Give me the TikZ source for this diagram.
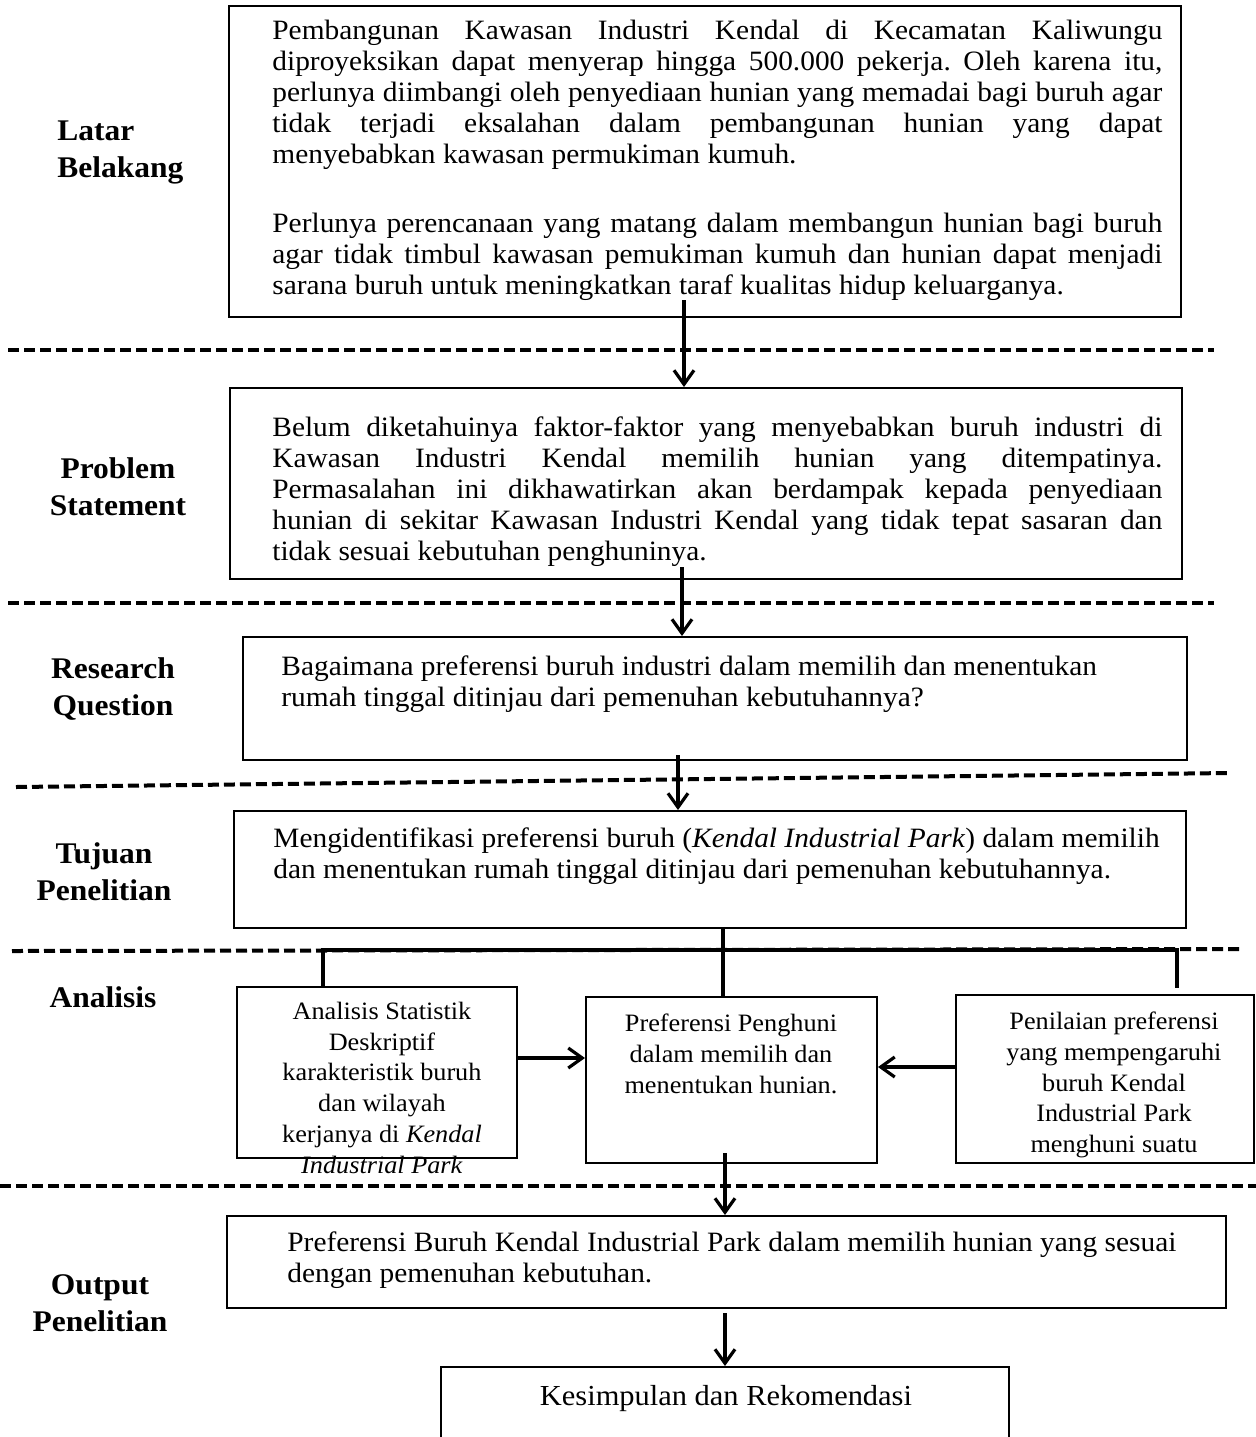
\documentclass[tikz,border=0pt]{standalone}
\usepackage{fontspec}
\setmainfont{Liberation Serif}[FakeStretch=1.05]
\usetikzlibrary{arrows.meta, fit, positioning}
\setlength{\parindent}{0pt}
\frenchspacing

\tikzset{
	box/.style = {draw, line width=1pt, inner sep=0pt},
	rowname/.style = {font=\fontsize{15}{18.5}\selectfont\bfseries, inner sep=0pt, align=center, anchor=north},
	body/.style = {font=\fontsize{14}{15.5}\selectfont, inner sep=0pt, anchor=north west},
	smallbody/.style = {font=\fontsize{12.5}{15.4}\selectfont, inner sep=0pt, align=center, anchor=north},
	arr/.style = {line width=1.6pt, -{Straight Barb[length=7pt, width=10pt, line width=1.6pt]}},
	link/.style = {line width=1.8pt},
	divider/.style = {line width=2pt, dash pattern=on 5.5pt off 2.5pt},
}

\begin{document}
\begin{tikzpicture}[x=0.5pt, y=-0.5pt]
		\useasboundingbox (0,0) rectangle (1256,1437);
		
		%section dividers
		\draw [divider] (8,350) -- (1214,350);
		\draw [divider] (8,603) -- (1214,603);
		\draw [divider] (16,787) -- (1230,773);
		\draw [divider] (12,951) -- (1242,949);
		\draw [divider] (0,1186) -- (1256,1186);
		
		%row names
		\node [rowname, align=left, anchor=north west] (nLatar) at (57,120) {Latar\\Belakang};
		\node [rowname] (nMasalah) at (118,457) {Problem\\Statement};
		\node [rowname] (nTanya) at (113,657) {Research\\Question};
		\node [rowname] (nTujuan) at (104,842) {Tujuan\\Penelitian};
		\node [rowname, anchor=base] (nAnalisis) at (103,1007) {Analisis};
		\node [rowname] (nOutput) at (100,1274) {Output\\Penelitian};
		
		%boxes
		\node [box, fit={(229,6) (1181,317)}] (latar) {};
		\node [box, fit={(230,388) (1182,579)}] (masalah) {};
		\node [box, fit={(243,637) (1187,760)}] (tanya) {};
		\node [box, fit={(234,811) (1186,928)}] (tujuan) {};
		\node [box, fit={(237,987) (517,1158)}] (anal) {};
		\node [box, fit={(586,997) (877,1163)}] (pref) {};
		\node [box, fit={(956,995) (1254,1163)}] (nilai) {};
		\node [box, fit={(227,1216) (1226,1308)}] (hasil) {};
		\node [box, fit={(441,1367) (1009,1450)}] (simpul) {};
		
		%box texts
		\node [body, text width=445pt, align=justify] (latarText) at (272,19.5) {Pembangunan Kawasan Industri Kendal di Kecamatan Kaliwungu\linebreak diproyeksikan dapat menyerap hingga 500.000 pekerja. Oleh karena itu,\linebreak perlunya diimbangi oleh penyediaan hunian yang memadai bagi buruh agar\linebreak tidak terjadi eksalahan dalam pembangunan hunian yang dapat\linebreak menyebabkan kawasan permukiman kumuh.\par\vspace{19pt}Perlunya perencanaan yang matang dalam membangun hunian bagi buruh\linebreak agar tidak timbul kawasan pemukiman kumuh dan hunian dapat menjadi\linebreak sarana buruh untuk meningkatkan taraf kualitas hidup keluarganya.};
		\node [body, text width=445pt, align=justify] (masalahText) at (272,416.6) {Belum diketahuinya faktor-faktor yang menyebabkan buruh industri di\linebreak Kawasan Industri Kendal memilih hunian yang ditempatinya.\linebreak Permasalahan ini dikhawatirkan akan berdampak kepada penyediaan\linebreak hunian di sekitar Kawasan Industri Kendal yang tidak tepat sasaran dan\linebreak tidak sesuai kebutuhan penghuninya.};
		\node [body, align=left] (tanyaText) at (281,655.6) {Bagaimana preferensi buruh industri dalam memilih dan menentukan\\rumah tinggal ditinjau dari pemenuhan kebutuhannya?};
		\node [body, align=left] (tujuanText) at (273,827.6) {Mengidentifikasi preferensi buruh (\textit{Kendal Industrial Park}) dalam memilih\\dan menentukan rumah tinggal ditinjau dari pemenuhan kebutuhannya.};
		\node [smallbody] (analText) at (382,1001.5) {Analisis Statistik\\Deskriptif\\karakteristik buruh\\dan wilayah\\kerjanya di \textit{Kendal}\\\textit{Industrial Park}};
		\node [smallbody] (prefText) at (731,1013.5) {Preferensi Penghuni\\dalam memilih dan\\menentukan hunian.};
		\node [smallbody] (nilaiText) at (1114,1011.5) {Penilaian preferensi\\yang mempengaruhi\\buruh Kendal\\Industrial Park\\menghuni suatu};
		\node [body, align=left] (hasilText) at (287,1231.6) {Preferensi Buruh Kendal Industrial Park dalam memilih hunian yang sesuai\\dengan pemenuhan kebutuhan.};
		\node [font=\fontsize{14.5}{16}\selectfont, inner sep=0pt, anchor=base] (simpulText) at (726,1405) {Kesimpulan dan Rekomendasi};
		
		%flow down the rows
		\coordinate (s1) at (684,300);
		\coordinate (s2) at (682,567);
		\coordinate (s3) at (678,755);
		\draw [arr] (s1) -- (s1 |- masalah.north);
		\draw [arr] (s2) -- (s2 |- tanya.north);
		\draw [arr] (s3) -- (s3 |- tujuan.north);
		
		%branching to the analyses
		\coordinate (split) at (723,950);
		\coordinate (bl) at (323,950);
		\coordinate (br) at (1177,950);
		\draw [link] (split |- tujuan.south) -- (split |- pref.north);
		\draw [link] (bl |- anal.north) -- (bl) -- (br) -- ++(0,38);
		
		%analyses into preference
		\coordinate (rowL) at (0,1058);
		\coordinate (rowR) at (0,1067);
		\draw [arr] (anal.east |- rowL) -- (pref.west |- rowL);
		\draw [arr] (nilai.west |- rowR) -- (pref.east |- rowR);
		
		%output and conclusion
		\coordinate (s4) at (725,1153);
		\coordinate (s5) at (725,1313);
		\draw [arr] (s4) -- (s4 |- hasil.north);
		\draw [arr] (s5) -- (s5 |- simpul.north);
	\end{tikzpicture}
\end{document}
